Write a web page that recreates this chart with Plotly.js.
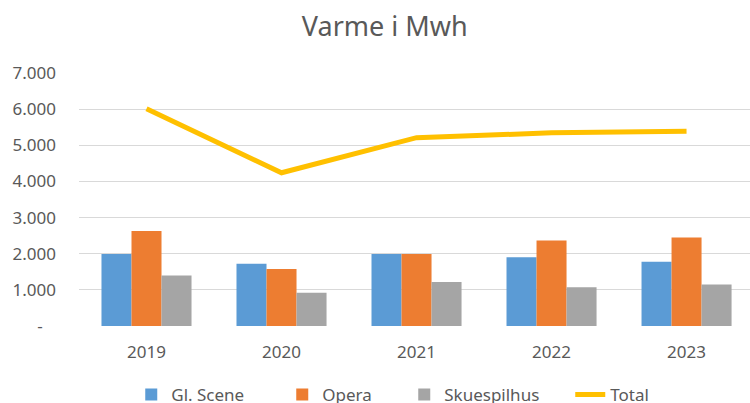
<!DOCTYPE html>
<html>
<head>
<meta charset="utf-8">
<script src="https://cdn.plot.ly/plotly-3.0.1.min.js"></script>
<style>html,body{margin:0;padding:0;background:#fff;}#chart{width:750px;height:403px;}</style>
</head>
<body>
<div id="chart"></div>
<script>
const years = ["2019", "2020", "2021", "2022", "2023"];
const glScene = [1990, 1720, 1990, 1900, 1775];
const opera = [2630, 1575, 1990, 2365, 2450];
const skuespilhus = [1400, 920, 1215, 1070, 1150];
const total = [6010, 4240, 5210, 5345, 5390];
const yTickVals = [0, 1000, 2000, 3000, 4000, 5000, 6000, 7000];
const yTickText = ["-\u00a0\u00a0\u00a0", "1.000", "2.000", "3.000", "4.000", "5.000", "6.000", "7.000"];

const font = "Noto Sans, sans-serif";
const grey = "#595959";

const traces = [
  {type: "bar", name: "Gl. Scene", x: years, y: glScene, marker: {color: "#5B9BD5"}, legendwidth: 106},
  {type: "bar", name: "Opera", x: years, y: opera, marker: {color: "#ED7D31"}, legendwidth: 77},
  {type: "bar", name: "Skuespilhus", x: years, y: skuespilhus, marker: {color: "#A5A5A5"}, legendwidth: 121},
  {type: "scatter", mode: "lines", name: "Total", x: years, y: total, line: {color: "#FFC000", width: 5}, legendwidth: 50}
];

const layout = {
  width: 750, height: 403,
  margin: {l: 79, r: 0, t: 73, b: 77},
  paper_bgcolor: "#ffffff", plot_bgcolor: "#ffffff",
  font: {family: font, color: grey, size: 17},
  title: {text: "Varme i Mwh", font: {family: font, size: 27, color: grey}, x: 0.513, xanchor: "center", y: 0.935, yref: "container", yanchor: "middle"},
  barmode: "group", bargap: 0.333, bargroupgap: 0,
  xaxis: {type: "category", range: [-0.5, 4.47], showgrid: false, zeroline: false, showline: false, ticks: "", tickfont: {size: 17, color: grey}, ticklabelstandoff: 14, fixedrange: true},
  yaxis: {range: [0, 7000], tickvals: yTickVals, ticktext: yTickText, showgrid: true, gridcolor: "#d9d9d9", gridwidth: 1, zeroline: false, showline: false, ticks: "", tickfont: {size: 17, color: grey}, ticklabelstandoff: 22, fixedrange: true},
  showlegend: true,
  legend: {orientation: "h", xref: "container", yref: "container", x: 0.175, xanchor: "left", y: 0.02, yanchor: "middle", font: {size: 17, color: grey}, traceorder: "normal"},
  hovermode: false
};

Plotly.newPlot("chart", traces, layout, {displayModeBar: false, staticPlot: true});
</script>
</body>
</html>
